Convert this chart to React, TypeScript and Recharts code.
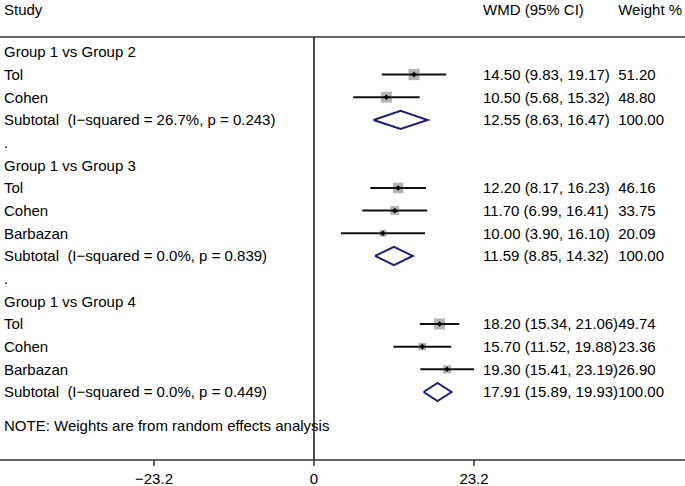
import {
  ScatterChart, Scatter, XAxis, YAxis, ErrorBar, ReferenceLine
} from 'recharts';

// rows: 0 = first group header, one row per line of the plot
const studyNames = ['Tol', 'Cohen', 'Tol', 'Cohen', 'Barbazan', 'Tol', 'Cohen', 'Barbazan'];
const studyRows = [1, 2, 6, 7, 8, 12, 13, 14];
const studyWmd = [14.5, 10.5, 12.2, 11.7, 10.0, 18.2, 15.7, 19.3];
const studyLow = [9.83, 5.68, 8.17, 6.99, 3.9, 15.34, 11.52, 15.41];
const studyHigh = [19.17, 15.32, 16.23, 16.41, 16.1, 21.06, 19.88, 23.19];
const studyWeight = [51.2, 48.8, 46.16, 33.75, 20.09, 49.74, 23.36, 26.9];

const subtotalRows = [3, 9, 15];
const subtotalWmd = [12.55, 11.59, 17.91];
const subtotalLow = [8.63, 8.85, 15.89];
const subtotalHigh = [16.47, 14.32, 19.93];
const subtotalHet = ['I−squared = 26.7%, p = 0.243', 'I−squared = 0.0%, p = 0.839', 'I−squared = 0.0%, p = 0.449'];

const groupNames = ['Group 1 vs Group 2', 'Group 1 vs Group 3', 'Group 1 vs Group 4'];
const groupRows = [0, 5, 11];
const spacerRows = [4, 10];
const noteText = 'NOTE: Weights are from random effects analysis';
const NOTE_ROW = 16.5;

const xTicks = [-23.2, 0, 23.2];

const X_MIN = -45.53;
const X_MAX = 53.79;
const Y_MIN = -2.29;
const Y_MAX = 18.0;
const RULE_Y = -0.66;
const HEADER_Y = -1.85;
const COL_LEFT = -44.95;
const COL_WMD = 24.5;
const COL_WEIGHT = 44.1;

const NAVY = '#1b1f7a';
const FONT = '"Liberation Sans", Arial, Helvetica, sans-serif';

const studyData = studyNames.map((_, i) => ({
  x: studyWmd[i],
  y: studyRows[i],
  err: [studyWmd[i] - studyLow[i], studyHigh[i] - studyWmd[i]],
  w: studyWeight[i],
}));

const diamonds = subtotalRows.map((r, i) => [
  { x: subtotalLow[i], y: r },
  { x: subtotalWmd[i], y: r - 0.4 },
  { x: subtotalHigh[i], y: r },
  { x: subtotalWmd[i], y: r + 0.4 },
  { x: subtotalLow[i], y: r },
]);

const leftText = [
  ...groupRows.map((r, i) => ({ x: COL_LEFT, y: r, text: groupNames[i] })),
  ...studyRows.map((r, i) => ({ x: COL_LEFT, y: r, text: studyNames[i] })),
  ...subtotalRows.map((r, i) => ({ x: COL_LEFT, y: r, text: `Subtotal  (${subtotalHet[i]})` })),
  ...spacerRows.map(r => ({ x: COL_LEFT, y: r, text: '.' })),
  { x: COL_LEFT, y: NOTE_ROW, text: noteText },
  { x: COL_LEFT, y: HEADER_Y, text: 'Study' },
];

const ci = (m: number, l: number, h: number) => `${m.toFixed(2)} (${l.toFixed(2)}, ${h.toFixed(2)})`;

const wmdText = [
  ...studyRows.map((r, i) => ({ x: COL_WMD, y: r, text: ci(studyWmd[i], studyLow[i], studyHigh[i]) })),
  ...subtotalRows.map((r, i) => ({ x: COL_WMD, y: r, text: ci(subtotalWmd[i], subtotalLow[i], subtotalHigh[i]) })),
  { x: COL_WMD, y: HEADER_Y, text: 'WMD (95% CI)' },
];

const weightText = [
  ...studyRows.map((r, i) => ({ x: COL_WEIGHT, y: r, text: studyWeight[i].toFixed(2) })),
  ...subtotalRows.map(r => ({ x: COL_WEIGHT, y: r, text: '100.00' })),
  { x: COL_WEIGHT, y: HEADER_Y, text: 'Weight %' },
];

const TextShape = (p: any) => (
  <text
    x={p.cx}
    y={p.cy}
    dominantBaseline="central"
    textAnchor="start"
    fontSize={15}
    fill="#000"
    style={{ whiteSpace: 'pre', fontFamily: FONT }}
  >
    {p.payload.text}
  </text>
);

const StudyShape = (p: any) => {
  const s = 1.55 * Math.sqrt(p.payload.w);
  const d = 2.8;
  return (
    <g>
      <rect x={p.cx - s / 2} y={p.cy - s / 2} width={s} height={s} fill="#b3b3b3" />
      <line x1={p.cx - s / 2} x2={p.cx + s / 2} y1={p.cy} y2={p.cy} stroke="#111" strokeWidth={2} />
      <path
        d={`M${p.cx - d},${p.cy}L${p.cx},${p.cy - d}L${p.cx + d},${p.cy}L${p.cx},${p.cy + d}Z`}
        fill="#000"
      />
    </g>
  );
};

const Empty = () => <g />;

const fmtTick = (v: number) => (v < 0 ? `−${Math.abs(v)}` : `${v}`);

export default function App() {
  return (
    <div style={{ position: 'absolute', left: 0, top: 0, background: '#fff', fontFamily: FONT }}>
      <ScatterChart width={685} height={486} margin={{ top: 0, right: 0, bottom: 0, left: 0 }}>
        <XAxis
          type="number"
          dataKey="x"
          domain={[X_MIN, X_MAX]}
          ticks={xTicks}
          allowDataOverflow
          height={26}
          tickFormatter={fmtTick}
          tick={{ fontSize: 15, fill: '#000', fontFamily: FONT }}
          axisLine={{ stroke: '#333', strokeWidth: 1.5 }}
          tickLine={{ stroke: '#333', strokeWidth: 1.5 }}
          tickSize={6}
          tickMargin={7}
        />
        <YAxis type="number" dataKey="y" domain={[Y_MIN, Y_MAX]} reversed hide allowDataOverflow />
        <ReferenceLine y={RULE_Y} stroke="#333" strokeWidth={1.5} />
        <ReferenceLine
          segment={[{ x: 0, y: RULE_Y }, { x: 0, y: Y_MAX }]}
          stroke="#111"
          strokeWidth={1.5}
        />
        <Scatter data={studyData} shape={<StudyShape />} isAnimationActive={false}>
          <ErrorBar dataKey="err" direction="x" width={0} stroke="#111" strokeWidth={2} />
        </Scatter>
        {diamonds.map((d, i) => (
          <Scatter
            key={i}
            data={d}
            line={{ stroke: NAVY, strokeWidth: 2 }}
            lineType="joint"
            shape={<Empty />}
            fill="none"
            isAnimationActive={false}
          />
        ))}
        <Scatter data={leftText} shape={<TextShape />} isAnimationActive={false} />
        <Scatter data={wmdText} shape={<TextShape />} isAnimationActive={false} />
        <Scatter data={weightText} shape={<TextShape />} isAnimationActive={false} />
      </ScatterChart>
    </div>
  );
}
